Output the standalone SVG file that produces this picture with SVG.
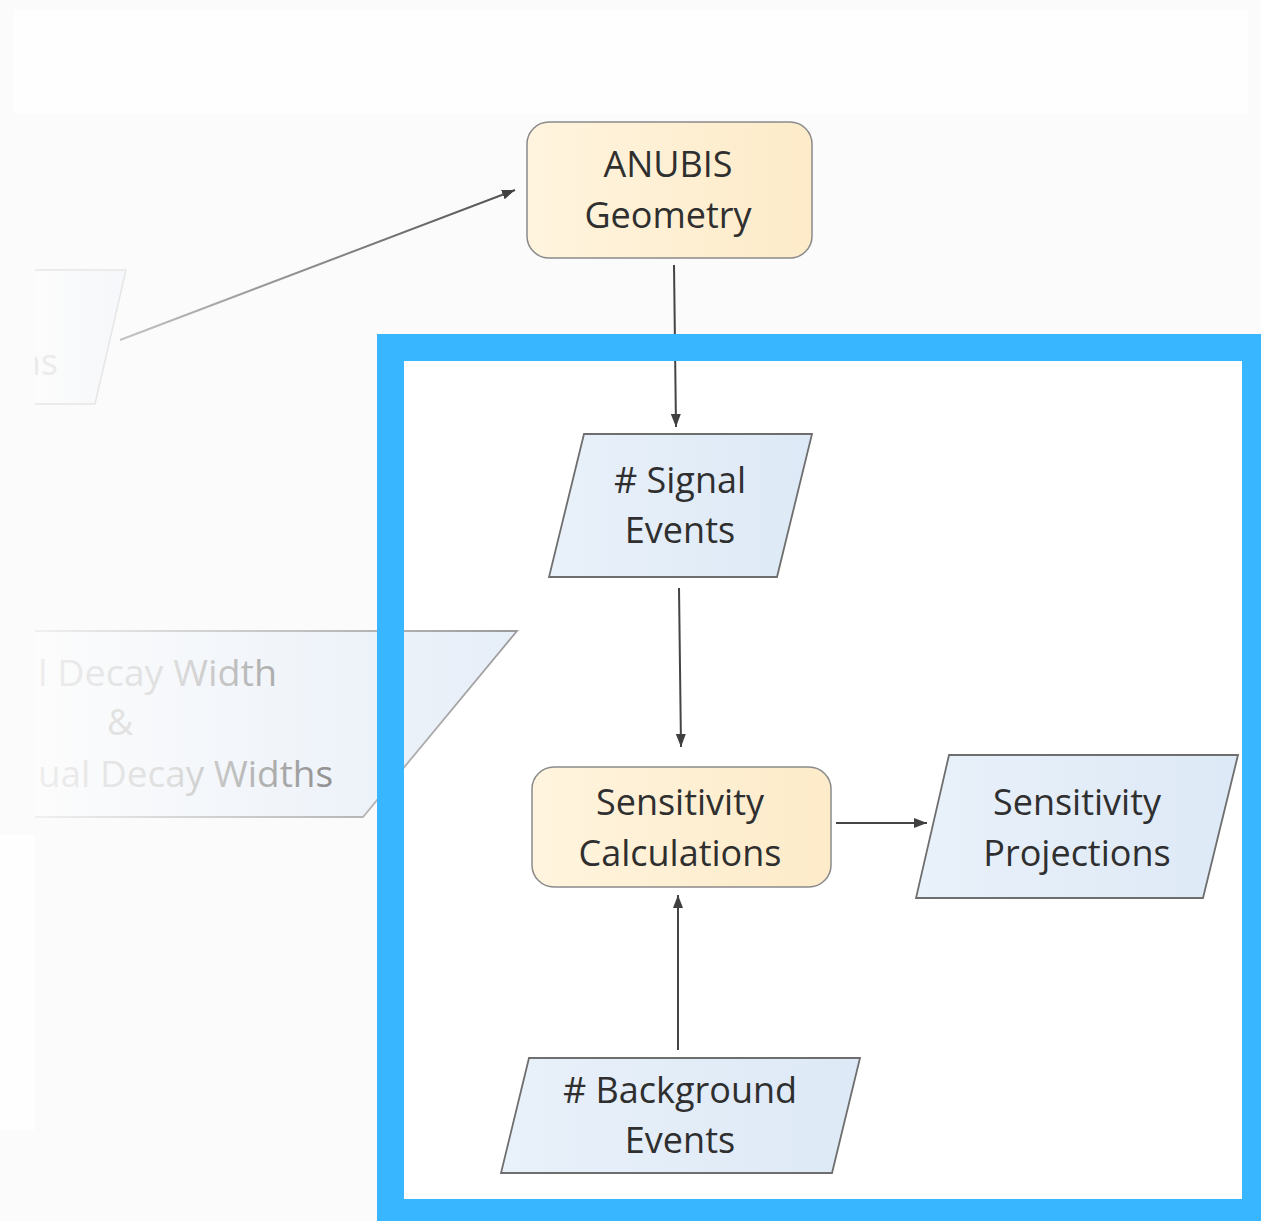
<svg xmlns="http://www.w3.org/2000/svg" width="1261" height="1221" viewBox="0 0 1261 1221">
  <defs>
    <style>
      .lbl { font-family: "Open Sans", "Liberation Sans", sans-serif; font-size: 36px; fill: #2f2f2f; text-anchor: middle; }
      .faded { font-family: "Open Sans", "Liberation Sans", sans-serif; font-size: 36px; }
      .proc { fill: url(#procFill); stroke: #8a8a8a; stroke-width: 1.5; }
      .data { fill: url(#dataFill); stroke: #6e6e6e; stroke-width: 1.8; }
      .link { fill: none; stroke: #444; stroke-width: 2; marker-end: url(#head); }
    </style>
    <linearGradient id="procFill" x1="0" y1="0" x2="1" y2="0">
      <stop offset="0" stop-color="#fff4de"/>
      <stop offset="1" stop-color="#fdebc9"/>
    </linearGradient>
    <linearGradient id="dataFill" x1="0" y1="0" x2="1" y2="0">
      <stop offset="0" stop-color="#e9f1fa"/>
      <stop offset="1" stop-color="#dde9f6"/>
    </linearGradient>
    <linearGradient id="fadeFill" gradientUnits="userSpaceOnUse" x1="35" y1="0" x2="520" y2="0">
      <stop offset="0" stop-color="#fcfcfc"/>
      <stop offset="1" stop-color="#e6eef8"/>
    </linearGradient>
    <linearGradient id="fadeFill2" gradientUnits="userSpaceOnUse" x1="35" y1="0" x2="130" y2="0">
      <stop offset="0" stop-color="#fcfcfc"/>
      <stop offset="1" stop-color="#f5f7fa"/>
    </linearGradient>
    <linearGradient id="fadeEdge" gradientUnits="userSpaceOnUse" x1="35" y1="0" x2="520" y2="0">
      <stop offset="0" stop-color="#f0f0f0"/>
      <stop offset="1" stop-color="#9a9a9a"/>
    </linearGradient>
    <linearGradient id="fadeText" gradientUnits="userSpaceOnUse" x1="35" y1="0" x2="340" y2="0">
      <stop offset="0" stop-color="#eeeeee"/>
      <stop offset="0.45" stop-color="#dedede"/>
      <stop offset="1" stop-color="#8c8c8c"/>
    </linearGradient>
    <linearGradient id="fadeLink" gradientUnits="userSpaceOnUse" x1="120" y1="0" x2="515" y2="0">
      <stop offset="0" stop-color="#c4c4c4"/>
      <stop offset="1" stop-color="#505050"/>
    </linearGradient>
    <marker id="head" viewBox="0 0 13 10" refX="13" refY="5" markerWidth="13" markerHeight="10" markerUnits="userSpaceOnUse" orient="auto">
      <path d="M0,0 L13,5 L0,10 z" fill="#404040"/>
    </marker>
    <clipPath id="leftCut">
      <rect x="35" y="0" width="1226" height="1221"/>
    </clipPath>
  </defs>

  <!-- page -->
  <rect x="0" y="0" width="1261" height="1221" fill="#fbfbfb"/>
  <rect x="14" y="10" width="1234" height="104" fill="#fefefe"/>
  <rect x="0" y="835" width="35" height="295" fill="#fefefe"/>

  <!-- highlighted region: inner fill -->
  <rect id="focus-fill" x="390.5" y="347.5" width="865" height="865" fill="#ffffff"/>

  <!-- faded inputs on the left -->
  <g clip-path="url(#leftCut)">
    <g id="input-upper">
      <polygon points="20,270 126,270 95,404 20,404" fill="url(#fadeFill2)" stroke="#e6e6e6" stroke-width="1.5"/>
      <text class="faded" x="58" y="375" fill="#ebebeb" text-anchor="end">ns</text>
    </g>
    <g id="input-widths">
      <polygon points="20,631 517,631 363,817 20,817" fill="url(#fadeFill)" stroke="url(#fadeEdge)" stroke-width="1.8"/>
      <text class="faded" x="38" y="686" fill="url(#fadeText)" textLength="239" lengthAdjust="spacingAndGlyphs">l Decay Width</text>
      <text class="faded" x="120" y="735" fill="#e2e2e2" text-anchor="middle">&amp;</text>
      <text class="faded" x="38" y="787" fill="url(#fadeText)" textLength="295" lengthAdjust="spacingAndGlyphs">ual Decay Widths</text>
    </g>
  </g>

  <!-- connectors -->
  <g id="connectors">
    <line x1="120" y1="340" x2="515" y2="190" fill="none" stroke="url(#fadeLink)" stroke-width="2" marker-end="url(#head)"/>
    <line class="link" x1="674" y1="265" x2="676" y2="427"/>
    <line class="link" x1="679" y1="588" x2="681" y2="747"/>
    <line class="link" x1="836" y1="823" x2="927" y2="823"/>
    <line class="link" x1="678" y1="1050" x2="678" y2="895"/>
  </g>

  <!-- nodes -->
  <g id="anubis-geometry">
    <rect class="proc" x="527" y="122" width="285" height="136" rx="22"/>
    <text class="lbl" x="668" y="177">ANUBIS</text>
    <text class="lbl" x="668" y="228">Geometry</text>
  </g>

  <g id="signal-events">
    <polygon class="data" points="584,434 812,434 777,577 549,577"/>
    <text class="lbl" x="680" y="493"># Signal</text>
    <text class="lbl" x="680" y="543">Events</text>
  </g>

  <g id="sensitivity-calculations">
    <rect class="proc" x="532" y="767" width="299" height="120" rx="22"/>
    <text class="lbl" x="680" y="815">Sensitivity</text>
    <text class="lbl" x="680" y="866">Calculations</text>
  </g>

  <g id="sensitivity-projections">
    <polygon class="data" points="949,755 1238,755 1203,898 916,898"/>
    <text class="lbl" x="1077" y="815">Sensitivity</text>
    <text class="lbl" x="1077" y="866">Projections</text>
  </g>

  <g id="background-events">
    <polygon class="data" points="529,1058 860,1058 832,1173 501,1173"/>
    <text class="lbl" x="680" y="1103"># Background</text>
    <text class="lbl" x="680" y="1153">Events</text>
  </g>

  <!-- highlighted region: frame -->
  <rect id="focus-frame" x="390.5" y="347.5" width="865" height="865" fill="none" stroke="#38b6ff" stroke-width="27"/>
</svg>
